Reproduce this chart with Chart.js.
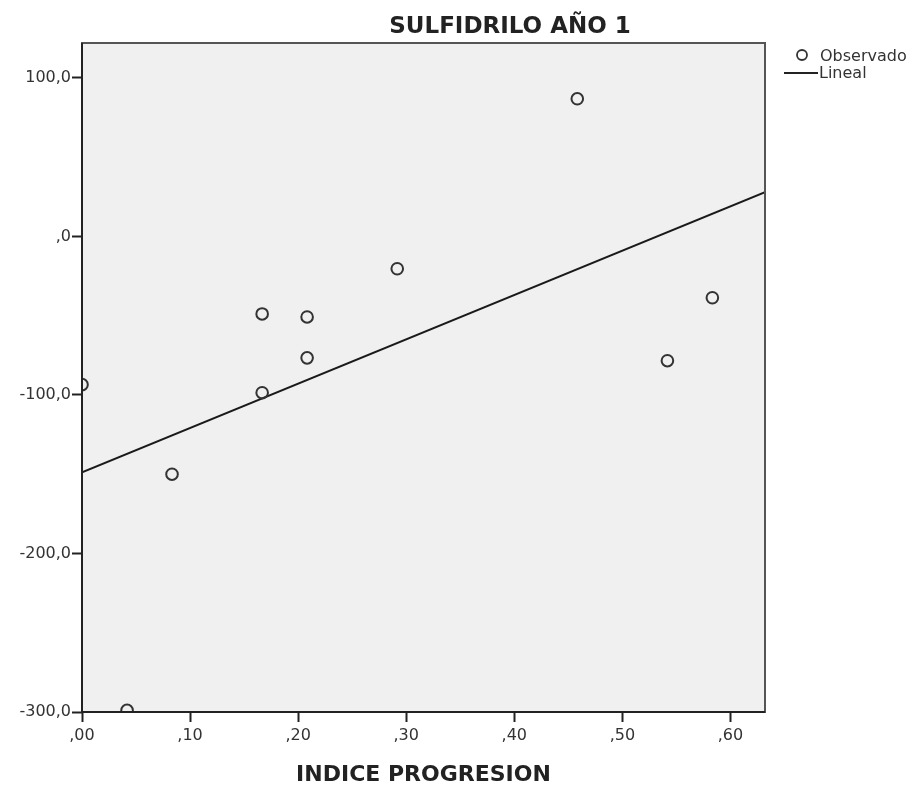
<!DOCTYPE html>
<html>
<head>
<meta charset="utf-8">
<script src="https://cdn.jsdelivr.net/npm/chart.js@4/dist/chart.umd.min.js"></script>
<style>
  html, body { margin: 0; padding: 0; background: #fff; }
  #wrap { width: 914px; height: 787px; }
</style>
</head>
<body>
<div id="wrap"><canvas id="chart" width="914" height="787"></canvas></div>
<script>
// -- data: indice progresion vs sulfidrilo, year 1 --
const indiceProgresion = [0, 0.0417, 0.0833, 0.1667, 0.1667, 0.2083, 0.2083, 0.2917, 0.4583, 0.5417, 0.5833]
const sulfidrilo = [-93.5, -299, -150, -48.9, -98.6, -50.8, -76.6, -20.4, 86.8, -78.4, -38.7]

const xTicks = [0, 0.1, 0.2, 0.3, 0.4, 0.5, 0.6]
const xTickLabels = [',00', ',10', ',20', ',30', ',40', ',50', ',60']
const yTicks = [-300, -200, -100, 0, 100]
const yTickLabels = ['-300,0', '-200,0', '-100,0', ',0', '100,0']

const chartTitle = 'SULFIDRILO AÑO 1'
const xTitle = 'INDICE PROGRESION'
const legendLabels = ['Observado', 'Lineal']

const xMin = 0, xMax = 0.632
const yMin = -300, yMax = 122

// least squares line for the "Lineal" series
function linearFit (xs, ys) {
    const n = xs.length
    const mx = xs.reduce((a, b) => a + b, 0) / n
    const my = ys.reduce((a, b) => a + b, 0) / n
    let sxy = 0, sxx = 0
    for (let i = 0; i < n; i++) {
        sxy += (xs[i] - mx) * (ys[i] - my)
        sxx += (xs[i] - mx) * (xs[i] - mx)
    }
    const slope = sxy / sxx
    return { slope: slope, intercept: my - slope * mx }
}

const fit = linearFit(indiceProgresion, sulfidrilo)
const points = indiceProgresion.map((x, i) => ({ x: x, y: sulfidrilo[i] }))
const fitLine = [xMin, xMax].map(x => ({ x: x, y: fit.intercept + fit.slope * x }))

Chart.defaults.font.family = 'DejaVu Sans'
Chart.defaults.font.size = 16
Chart.defaults.color = '#333'

// plot background, frame, titles and legend
const decorations = {
    id: 'decorations',
    beforeDraw (chart) {
        const { ctx, chartArea: a } = chart
        ctx.save()
        ctx.fillStyle = '#f0f0f0'
        ctx.fillRect(a.left, a.top, a.right - a.left, a.bottom - a.top)
        ctx.restore()
    },
    afterDatasetsDraw (chart) {
        const { ctx, chartArea: a } = chart
        ctx.save()
        ctx.strokeStyle = '#555'
        ctx.lineWidth = 2
        ctx.strokeRect(a.left, a.top, a.right - a.left, a.bottom - a.top)
        ctx.strokeStyle = '#222'
        ctx.beginPath()
        ctx.moveTo(a.left, a.top)
        ctx.lineTo(a.left, a.bottom)
        ctx.lineTo(a.right, a.bottom)
        ctx.stroke()
        ctx.restore()
    },
    afterDraw (chart) {
        const { ctx, chartArea: a } = chart
        ctx.save()
        ctx.fillStyle = '#222'
        ctx.textAlign = 'center'
        ctx.textBaseline = 'alphabetic'
        ctx.font = 'bold 23px "DejaVu Sans"'
        ctx.fillText(chartTitle, 510, 33)
        ctx.font = 'bold 22px "DejaVu Sans"'
        ctx.fillText(xTitle, (a.left + a.right) / 2, 781)

        // legend
        ctx.fillStyle = '#333'
        ctx.strokeStyle = '#333'
        ctx.lineWidth = 1.8
        ctx.beginPath()
        ctx.arc(802, 55, 5, 0, Math.PI * 2)
        ctx.stroke()
        ctx.lineWidth = 2
        ctx.strokeStyle = '#222'
        ctx.beginPath()
        ctx.moveTo(784, 73)
        ctx.lineTo(818, 73)
        ctx.stroke()
        ctx.textAlign = 'left'
        ctx.font = '16px "DejaVu Sans"'
        ctx.fillText(legendLabels[0], 820, 61)
        ctx.fillText(legendLabels[1], 819, 78)
        ctx.restore()
    }
}

const ctx = document.getElementById('chart').getContext('2d')
new Chart(ctx, {
    type: 'scatter',
    data: {
        datasets: [
            {
                label: legendLabels[0],
                data: points,
                pointRadius: 5.8,
                pointBorderWidth: 2,
                pointBorderColor: '#333',
                pointBackgroundColor: 'rgba(0,0,0,0)',
                clip: 0
            },
            {
                type: 'line',
                label: legendLabels[1],
                data: fitLine,
                borderColor: '#1a1a1a',
                borderWidth: 2,
                pointRadius: 0,
                fill: false,
                clip: 0
            }
        ]
    },
    options: {
        responsive: false,
        animation: false,
        layout: { padding: { left: 0, top: 43, right: 149, bottom: 0 } },
        plugins: {
            legend: { display: false },
            tooltip: { enabled: false }
        },
        scales: {
            x: {
                type: 'linear',
                min: xMin,
                max: xMax,
                afterBuildTicks: scale => { scale.ticks = xTicks.map(v => ({ value: v })) },
                afterFit: scale => { scale.height = 75 },
                ticks: {
                    callback: (v, i) => xTickLabels[i],
                    padding: 4,
                    maxRotation: 0,
                    color: '#333'
                },
                grid: { drawOnChartArea: false, tickLength: 10, tickWidth: 2, tickColor: '#222' },
                border: { display: false }
            },
            y: {
                type: 'linear',
                min: yMin,
                max: yMax,
                afterBuildTicks: scale => { scale.ticks = yTicks.map(v => ({ value: v })) },
                afterFit: scale => { scale.width = 82 },
                ticks: {
                    callback: (v, i) => yTickLabels[i],
                    padding: 1,
                    color: '#333'
                },
                grid: { drawOnChartArea: false, tickLength: 10, tickWidth: 2, tickColor: '#222' },
                border: { display: false }
            }
        }
    },
    plugins: [decorations]
})
</script>
</body>
</html>
